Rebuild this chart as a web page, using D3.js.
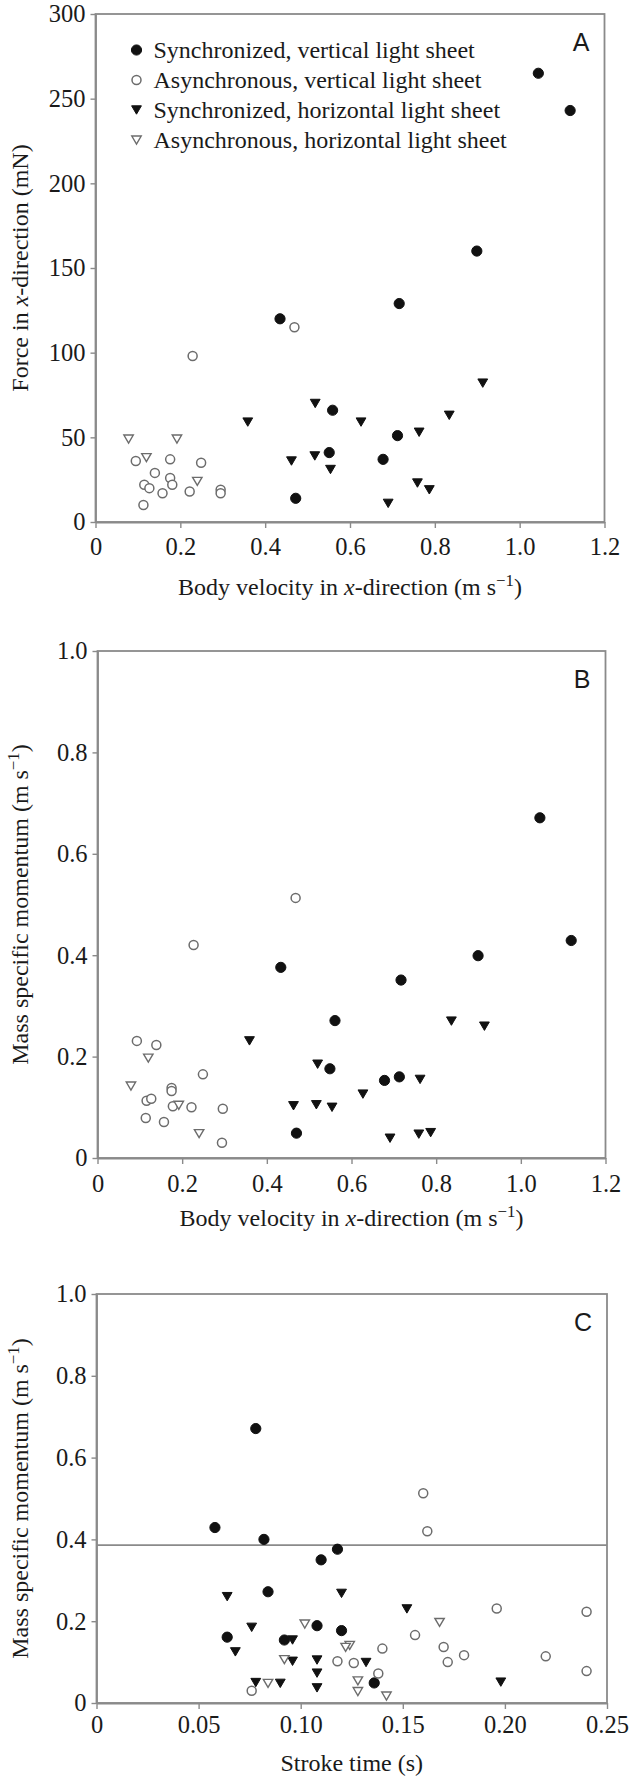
<!DOCTYPE html>
<html>
<head>
<meta charset="utf-8">
<script src="https://cdn.jsdelivr.net/npm/d3@7"></script>
<style>
  body { margin: 0; background: #fff; }
  svg { display: block; }
</style>
</head>
<body>
<svg id="chart" width="629" height="1783"></svg>
<script>
// ---- Series names (legend order) ----
const seriesNames = [
  "Synchronized, vertical light sheet",
  "Asynchronous, vertical light sheet",
  "Synchronized, horizontal light sheet",
  "Asynchronous, horizontal light sheet"
];

// ---- Panel A: force in x-direction (mN) vs body velocity (m/s) ----
const forceSyncVert = [[1.044,265],[1.119,243],[0.899,160],[0.716,129],[0.435,120],[0.559,66],[0.712,51],[0.551,41],[0.678,37],[0.472,14]];
const forceAsyncVert = [[0.469,115],[0.229,98],[0.095,36],[0.140,29],[0.176,37],[0.249,35],[0.176,26],[0.115,22],[0.127,20],[0.181,22],[0.158,17],[0.222,18],[0.295,19],[0.295,17],[0.113,10]];
const forceSyncHoriz = [[0.913,82],[0.518,70],[0.359,59],[0.626,59],[0.834,63],[0.763,53],[0.517,39],[0.462,36],[0.554,31],[0.759,23],[0.787,19],[0.690,11]];
const forceAsyncHoriz = [[0.078,49],[0.192,49],[0.120,38],[0.240,24]];

// ---- Panel B: mass specific momentum (m/s) vs body velocity (m/s) ----
const momSyncVert = [[1.045,0.671],[1.119,0.429],[0.899,0.399],[0.717,0.351],[0.433,0.376],[0.561,0.271],[0.549,0.176],[0.678,0.153],[0.713,0.160],[0.470,0.049]];
const momAsyncVert = [[0.468,0.513],[0.227,0.420],[0.093,0.231],[0.139,0.223],[0.249,0.165],[0.175,0.138],[0.175,0.132],[0.116,0.113],[0.127,0.117],[0.178,0.102],[0.222,0.100],[0.296,0.097],[0.114,0.079],[0.157,0.071],[0.294,0.030]];
const momSyncHoriz = [[0.359,0.231],[0.520,0.185],[0.836,0.270],[0.914,0.260],[0.463,0.103],[0.517,0.105],[0.554,0.100],[0.627,0.126],[0.762,0.155],[0.691,0.039],[0.759,0.047],[0.787,0.050]];
const momAsyncHoriz = [[0.079,0.142],[0.120,0.197],[0.192,0.104],[0.240,0.048]];

// ---- Panel C: mass specific momentum (m/s) vs stroke time (s) ----
const strokeSyncVert = [[0.078,0.671],[0.058,0.429],[0.082,0.400],[0.118,0.376],[0.110,0.350],[0.084,0.272],[0.108,0.189],[0.120,0.177],[0.064,0.161],[0.092,0.154],[0.136,0.049]];
const strokeAsyncVert = [[0.160,0.513],[0.162,0.420],[0.196,0.231],[0.240,0.223],[0.156,0.166],[0.170,0.137],[0.140,0.133],[0.180,0.117],[0.220,0.114],[0.118,0.102],[0.172,0.100],[0.126,0.098],[0.240,0.078],[0.138,0.072],[0.076,0.030]];
const strokeSyncHoriz = [[0.064,0.260],[0.120,0.268],[0.152,0.230],[0.076,0.185],[0.096,0.154],[0.068,0.125],[0.096,0.102],[0.108,0.105],[0.132,0.099],[0.108,0.073],[0.078,0.050],[0.090,0.048],[0.108,0.037],[0.198,0.051]];
const strokeAsyncHoriz = [[0.102,0.193],[0.168,0.197],[0.124,0.141],[0.122,0.136],[0.092,0.106],[0.084,0.048],[0.128,0.054],[0.128,0.028],[0.142,0.017]];
const strokeRefLine = 0.386;

// ---- Tick values and labels ----
const velocityTicks = [0, 0.2, 0.4, 0.6, 0.8, 1.0, 1.2];
const velocityTickLabels = ["0", "0.2", "0.4", "0.6", "0.8", "1.0", "1.2"];
const forceTicks = [0, 50, 100, 150, 200, 250, 300];
const forceTickLabels = ["0", "50", "100", "150", "200", "250", "300"];
const momentumTicks = [0, 0.2, 0.4, 0.6, 0.8, 1.0];
const momentumTickLabels = ["0", "0.2", "0.4", "0.6", "0.8", "1.0"];
const strokeTicks = [0, 0.05, 0.10, 0.15, 0.20, 0.25];
const strokeTickLabels = ["0", "0.05", "0.10", "0.15", "0.20", "0.25"];

// ---- Styling ----
const serif = "'Liberation Serif','Times New Roman',Times,serif";
const sans = "'Liberation Sans',Arial,Helvetica,sans-serif";
const axisColor = "#8a8a8a";
const inkColor = "#1a1a1a";
const markerStyles = [
  { shape: "circle", fill: "#111", stroke: "#111", sw: 1, r: 5.1 },
  { shape: "circle", fill: "#fff", stroke: "#6c6c6c", sw: 1.5, r: 4.5 },
  { shape: "tri", fill: "#111", stroke: "#111", sw: 1, hw: 4.9, hh: 4.2 },
  { shape: "tri", fill: "#fff", stroke: "#6c6c6c", sw: 1.4, hw: 4.7, hh: 4.0 }
];

const svg = d3.select("#chart");

function drawMarker(g, st, cx, cy) {
  if (st.shape === "circle") {
    g.append("circle").attr("cx", cx).attr("cy", cy).attr("r", st.r)
      .attr("fill", st.fill).attr("stroke", st.stroke).attr("stroke-width", st.sw);
  } else {
    const hw = st.hw, hh = st.hh;
    g.append("path")
      .attr("d", `M${cx - hw},${cy - hh}L${cx + hw},${cy - hh}L${cx},${cy + hh}Z`)
      .attr("fill", st.fill).attr("stroke", st.stroke).attr("stroke-width", st.sw)
      .attr("stroke-linejoin", "miter");
  }
}

// Writes a text made of parts: plain strings, {i: "..."} italic, {sup: "..."} superscript
function richText(sel, parts, size) {
  let raised = false;
  parts.forEach(p => {
    const t = sel.append("tspan");
    if (typeof p === "string") {
      t.text(p);
      if (raised) { t.attr("dy", 9); raised = false; }
    } else if (p.i) {
      t.text(p.i).attr("font-style", "italic");
    } else if (p.sup) {
      t.text(p.sup).attr("font-size", size * 0.7).attr("dy", -9);
      raised = true;
    }
  });
}

const velocityTitle = ["Body velocity in ", { i: "x" }, "-direction (m s", { sup: "\u22121" }, ")"];
const momentumTitle = ["Mass specific momentum (m s", { sup: "\u22121" }, ")"];

const panels = [
  {
    box: { left: 95.5, right: 604.5, top: 14, bottom: 522 },
    xDomain: [0, 1.2], yDomain: [0, 300],
    xTicks: velocityTicks, xLabels: velocityTickLabels,
    yTicks: forceTicks, yLabels: forceTickLabels,
    series: [forceSyncVert, forceAsyncVert, forceSyncHoriz, forceAsyncHoriz],
    letter: "A", xTitle: velocityTitle,
    yTitle: ["Force in ", { i: "x" }, "-direction (mN)"],
    xPad: 10, xTitleY: 595, legend: true
  },
  {
    box: { left: 97.5, right: 605.5, top: 651, bottom: 1158 },
    xDomain: [0, 1.2], yDomain: [0, 1.0],
    xTicks: velocityTicks, xLabels: velocityTickLabels,
    yTicks: momentumTicks, yLabels: momentumTickLabels,
    series: [momSyncVert, momAsyncVert, momSyncHoriz, momAsyncHoriz],
    letter: "B", xTitle: velocityTitle, yTitle: momentumTitle,
    xPad: 11, xTitleY: 1226
  },
  {
    box: { left: 96.5, right: 607, top: 1294, bottom: 1703 },
    xDomain: [0, 0.25], yDomain: [0, 1.0],
    xTicks: strokeTicks, xLabels: strokeTickLabels,
    yTicks: momentumTicks, yLabels: momentumTickLabels,
    series: [strokeSyncVert, strokeAsyncVert, strokeSyncHoriz, strokeAsyncHoriz],
    letter: "C", xTitle: ["Stroke time (s)"], yTitle: momentumTitle,
    xPad: 7, xTitleY: 1771, refLine: strokeRefLine
  }
];

panels.forEach(p => {
  const b = p.box;
  const x = d3.scaleLinear().domain(p.xDomain).range([b.left, b.right]);
  const y = d3.scaleLinear().domain(p.yDomain).range([b.bottom, b.top]);
  const g = svg.append("g");

  // frame
  g.append("rect")
    .attr("x", b.left).attr("y", b.top)
    .attr("width", b.right - b.left).attr("height", b.bottom - b.top)
    .attr("fill", "none").attr("stroke", axisColor).attr("stroke-width", 1.8);

  // y axis
  const yAxis = g.append("g").attr("transform", `translate(${b.left},0)`)
    .call(d3.axisLeft(y).tickValues(p.yTicks).tickFormat((d, i) => p.yLabels[i])
      .tickSize(5).tickSizeOuter(0).tickPadding(5));
  // x axis
  const xAxis = g.append("g").attr("transform", `translate(0,${b.bottom})`)
    .call(d3.axisBottom(x).tickValues(p.xTicks).tickFormat((d, i) => p.xLabels[i])
      .tickSize(6).tickSizeOuter(0).tickPadding(p.xPad));
  [yAxis, xAxis].forEach(ax => {
    ax.select(".domain").attr("stroke", axisColor).attr("stroke-width", 1.8);
    ax.selectAll(".tick line").attr("stroke", axisColor).attr("stroke-width", 1.4);
    ax.selectAll(".tick text").attr("fill", inkColor)
      .attr("font-family", serif).attr("font-size", 24.5);
  });

  // reference line
  if (p.refLine !== undefined) {
    g.append("line")
      .attr("x1", b.left).attr("x2", b.right)
      .attr("y1", y(p.refLine)).attr("y2", y(p.refLine))
      .attr("stroke", axisColor).attr("stroke-width", 1.8);
  }

  // points
  const pts = g.append("g");
  p.series.forEach((data, si) => {
    data.forEach(d => drawMarker(pts, markerStyles[si], x(d[0]), y(d[1])));
  });

  // panel letter
  g.append("text")
    .attr("x", b.right - 15).attr("y", b.top + 37)
    .attr("text-anchor", "end")
    .attr("font-family", sans).attr("font-size", 25)
    .attr("fill", inkColor).text(p.letter);

  // axis titles
  const xt = g.append("text")
    .attr("x", (b.left + b.right) / 2).attr("y", p.xTitleY)
    .attr("text-anchor", "middle")
    .attr("font-family", serif).attr("font-size", 24).attr("fill", inkColor);
  richText(xt, p.xTitle, 24);

  const yt = g.append("text")
    .attr("transform", `translate(28,${(b.top + b.bottom) / 2}) rotate(-90)`)
    .attr("text-anchor", "middle")
    .attr("font-family", serif).attr("font-size", 24).attr("fill", inkColor);
  richText(yt, p.yTitle, 24);

  // legend
  if (p.legend) {
    const lg = g.append("g");
    seriesNames.forEach((name, i) => {
      const cy = b.top + 36 + i * 30;
      drawMarker(lg, markerStyles[i], 136.5, cy);
      lg.append("text")
        .attr("x", 153.5).attr("y", cy + 8)
        .attr("font-family", serif).attr("font-size", 24)
        .attr("fill", inkColor).text(name);
    });
  }
});
</script>
</body>
</html>
